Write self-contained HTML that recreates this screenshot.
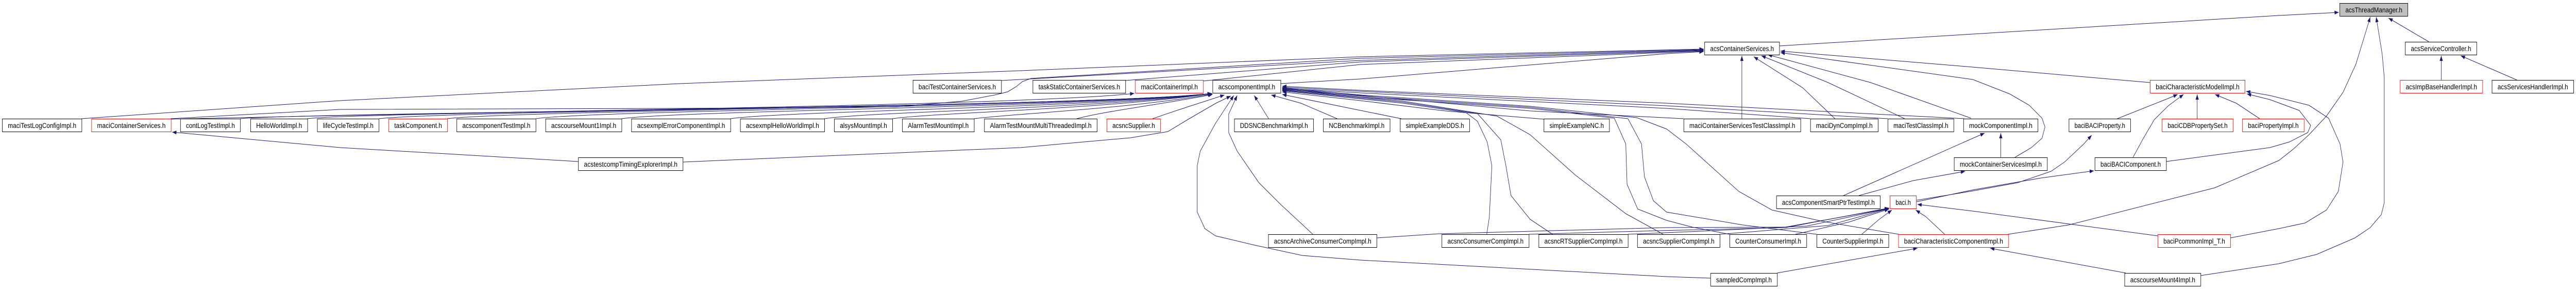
<!DOCTYPE html>
<html><head><meta charset="utf-8"><style>
html,body{margin:0;padding:0;background:#fff;overflow:hidden;width:100%;height:100%;}
svg{display:block;position:absolute;left:0;top:0;width:100vw;height:100vh;}
text{font-family:"Liberation Sans",sans-serif;font-size:14px;fill:#000;}
</style></head><body>
<svg xmlns="http://www.w3.org/2000/svg" viewBox="0 0 6059 560" preserveAspectRatio="none">
<defs>
<marker id="a" markerWidth="11" markerHeight="8" refX="10" refY="3.75" orient="auto" markerUnits="userSpaceOnUse"><path d="M0,0 L10,3.75 L0,7.5 z" fill="#191970"/></marker>
</defs>
<rect width="6059" height="560" fill="#fff"/>
<g fill="none" stroke="#191970" stroke-width="1" marker-end="url(#a)">
<!-- into acsContainerServices from left -->
<path d="M192,230 L800,195 L1600,162 L2400,137 L3200,110 L4007,95"/>
<path d="M401,230 L800,212 L1600,210 L2110,207 L2263,196 L2340,184 L2370,178 L2390,168 L2405,158 L2425,152 L3200,113 L4007,96"/>
<path d="M2355,156 L2400,154 L3200,117 L4007,97"/>
<path d="M2647,156 L3200,120 L4007,98"/>
<path d="M2830,157 L3200,125 L4007,99"/>
<path d="M3012,162 L3200,153 L3920,104 L4007,100"/>
<!-- into acsContainerServices from below/right -->
<path d="M4097,230 L4097,108"/>
<path d="M4316,230 L4240,170 L4125,110"/>
<path d="M4480,230 L4300,160 L4143,108"/>
<path d="M4636,229 L4400,160 L4158,106"/>
<path d="M5057,160 L4640,130 L4188,99"/>
<path d="M4739,305 L4778,286 L4803,268 L4810,246 L4803,229 L4773,204 L4727,182 L4640,154 L4188,102"/>
<!-- to acsThreadManager -->
<path d="M4185,89 L4640,66 L5360,30 L5501,24"/>
<path d="M5713,81 L5618,35"/>
<path d="M4723,454 L4865,436 L5209,364 L5360,311 L5394,289 L5431,261 L5472,225 L5511,179 L5541,125 L5569,50 L5575,33"/>
<path d="M5176,534 L5360,511 L5449,493 L5539,461 L5575,441 L5601,416 L5608,393 L5608,150 L5603,104 L5591,43 L5589,33"/>
<!-- acsServiceController -->
<path d="M5742,155 L5742,108"/>
<path d="M5920,155 L5788,108"/>
<!-- baciCharacteristicModelImpl -->
<path d="M4980,230 L5099,191 L5122,183"/>
<path d="M5017,305 L5040,270 L5067,232 L5100,205 L5136,183"/>
<path d="M5168,230 L5168,183"/>
<path d="M5315,230 L5260,200 L5210,183"/>
<path d="M5246,461 L5360,443 L5422,432 L5472,407 L5500,371 L5511,314 L5504,279 L5477,229 L5431,204 L5339,185 L5283,177"/>
<path d="M5095,313 L5339,286 L5385,275 L5428,257 L5435,243 L5408,214 L5339,193 L5285,182"/>
<!-- baci.h -->
<path d="M4508,388 L4640,370 L4746,354 L4824,332 L4856,314 L4900,280 L4920,262"/>
<path d="M4508,391 L4640,368 L4800,345 L4925,331"/>
<path d="M5075,457 L4640,409 L4510,396"/>
<path d="M4574,454 L4530,420 L4506,407"/>
<path d="M4379,454 L4420,425 L4450,407"/>
<path d="M4223,454 L4350,430 L4443,405"/>
<path d="M4045,454 L4300,437 L4443,404"/>
<path d="M3829,454 L4000,448 L4250,438 L4443,404"/>
<path d="M3596,454 L3900,447 L4200,441 L4443,403"/>
<path d="M3238,461 L3384,453 L3920,441 L4200,440 L4443,404"/>
<!-- baciCharacteristicComponentImpl -->
<path d="M4180,529 L4510,481"/>
<path d="M5000,529 L4681,481"/>
<!-- mock -->
<path d="M4336,379 L4640,268 L4668,258"/>
<path d="M4372,379 L4500,350 L4622,332"/>
<path d="M4706,305 L4706,258"/>
<!-- acstestcompTimingExplorer -->
<path d="M1360,313 L800,286 L405,256"/>
<path d="M1606,314 L2400,286 L2659,267 L2747,255 L2793,232 L2860,200 L2895,186"/>
<!-- long curves to acscomponentImpl bottom -->
<path d="M4023,539 L3920,536 L3200,504 L3063,495 L2951,475 L2859,457 L2834,443 L2816,411 L2816,321 L2823,293 L2859,239 L2902,185"/>
<path d="M3088,454 L3012,396 L2961,354 L2910,293 L2890,257 L2890,221 L2910,185"/>
<!-- left row boxes to acscomponentImpl / maciContainerImpl -->
<path d="M401,231 C1200,215 2400,205 2668,181"/>
<path d="M565,230 C700,218 2600,208 2850,181"/>
<path d="M723,230 C850,216 2600,207 2850,181"/>
<path d="M891,230 C1050,214 2600,206 2850,181"/>
<path d="M1052,230 C1200,214 2600,205 2850,181"/>
<path d="M1260,230 C1400,213 2600,206 2850,181"/>
<path d="M1462,230 C1600,214 2600,207 2850,181"/>
<path d="M1718,230 C1850,215 2600,208 2850,181"/>
<path d="M1939,230 C2050,216 2600,210 2850,181"/>
<path d="M2099,230 C2200,218 2600,212 2851,181"/>
<path d="M2291,230 C2380,220 2650,212 2851,182"/>
<path d="M2533,230 C2600,215 2750,200 2852,183"/>
<path d="M2711,230 C2780,210 2840,195 2880,184"/>
<!-- right side into acscomponentImpl -->
<path d="M2984,230 L2950,185"/>
<path d="M3145,230 L3060,200 L2990,184"/>
<path d="M3296,230 L3200,214 L3016,183"/>
<path d="M3632,231 L3400,215 L3200,195 L3016,178"/>
<path d="M3960,230 L3600,215 L3200,185 L3016,173"/>
<path d="M4258,230 L3920,210 L3200,180 L3016,171"/>
<path d="M4440,230 L3920,205 L3200,177 L3016,169"/>
<path d="M4620,230 L3920,200 L3200,175 L3016,167"/>
<path d="M3497,454 L3503,421 L3509,321 L3498,275 L3475,235 L3448,218 L3300,200 L3016,176"/>
<path d="M3652,454 L3599,425 L3554,379 L3542,321 L3530,271 L3475,220 L3300,198 L3016,175"/>
<path d="M3912,454 L3824,414 L3705,339 L3599,261 L3521,225 L3300,196 L3016,174"/>
<path d="M4068,454 L3980,440 L3920,427 L3852,405 L3827,357 L3824,279 L3797,229 L3600,210 L3200,188 L3016,172"/>
<path d="M4273,454 L4100,436 L3920,411 L3889,389 L3868,343 L3861,279 L3829,230 L3600,208 L3200,186 L3016,171"/>
<path d="M4466,454 L4287,429 L4168,407 L4090,371 L3966,279 L3920,250 L3850,228 L3600,206 L3200,184 L3016,170"/>
</g>
<g stroke-width="1">
<rect x="5503.5" y="6.5" width="160" height="25" fill="#bfbfbf" stroke="#000"/>
<text x="5583.5" y="24" text-anchor="middle" textLength="134" lengthAdjust="spacingAndGlyphs">acsThreadManager.h</text>
<rect x="4009.5" y="81.5" width="176" height="25" fill="#fff" stroke="#000"/>
<text x="4097.5" y="99" text-anchor="middle" textLength="150" lengthAdjust="spacingAndGlyphs">acsContainerServices.h</text>
<rect x="5657.5" y="81.5" width="168" height="25" fill="#fff" stroke="#000"/>
<text x="5741.5" y="99" text-anchor="middle" textLength="142" lengthAdjust="spacingAndGlyphs">acsServiceController.h</text>

<rect x="2147.5" y="155.5" width="208" height="25" fill="#fff" stroke="#000"/>
<text x="2251.5" y="173" text-anchor="middle" textLength="182" lengthAdjust="spacingAndGlyphs">baciTestContainerServices.h</text>
<rect x="2429.5" y="155.5" width="218" height="25" fill="#fff" stroke="#000"/>
<text x="2538.5" y="173" text-anchor="middle" textLength="192" lengthAdjust="spacingAndGlyphs">taskStaticContainerServices.h</text>
<rect x="2670.5" y="155.5" width="160" height="25" fill="#fff" stroke="#f00"/>
<text x="2750.5" y="173" text-anchor="middle" textLength="134" lengthAdjust="spacingAndGlyphs">maciContainerImpl.h</text>
<rect x="2852.5" y="155.5" width="160" height="25" fill="#fff" stroke="#000"/>
<text x="2932.5" y="173" text-anchor="middle" textLength="134" lengthAdjust="spacingAndGlyphs">acscomponentImpl.h</text>
<rect x="5057.5" y="155.5" width="223" height="25" fill="#fff" stroke="#f00"/>
<text x="5169" y="173" text-anchor="middle" textLength="197" lengthAdjust="spacingAndGlyphs">baciCharacteristicModelImpl.h</text>
<rect x="5645.5" y="155.5" width="194" height="25" fill="#fff" stroke="#f00"/>
<text x="5742.5" y="173" text-anchor="middle" textLength="168" lengthAdjust="spacingAndGlyphs">acsImpBaseHandlerImpl.h</text>
<rect x="5861.5" y="155.5" width="192" height="25" fill="#fff" stroke="#000"/>
<text x="5957.5" y="173" text-anchor="middle" textLength="166" lengthAdjust="spacingAndGlyphs">acsServicesHandlerImpl.h</text>

<rect x="5.5" y="230.5" width="187" height="25" fill="#fff" stroke="#000"/>
<text x="99" y="248" text-anchor="middle" textLength="161" lengthAdjust="spacingAndGlyphs">maciTestLogConfigImpl.h</text>
<rect x="215.5" y="230.5" width="187" height="25" fill="#fff" stroke="#f00"/>
<text x="309" y="248" text-anchor="middle" textLength="161" lengthAdjust="spacingAndGlyphs">maciContainerServices.h</text>
<rect x="424.5" y="230.5" width="141" height="25" fill="#fff" stroke="#000"/>
<text x="495" y="248" text-anchor="middle" textLength="115" lengthAdjust="spacingAndGlyphs">contLogTestImpl.h</text>
<rect x="589.5" y="230.5" width="134" height="25" fill="#fff" stroke="#000"/>
<text x="656.5" y="248" text-anchor="middle" textLength="108" lengthAdjust="spacingAndGlyphs">HelloWorldImpl.h</text>
<rect x="746.5" y="230.5" width="145" height="25" fill="#fff" stroke="#000"/>
<text x="819" y="248" text-anchor="middle" textLength="119" lengthAdjust="spacingAndGlyphs">lifeCycleTestImpl.h</text>
<rect x="914.5" y="230.5" width="138" height="25" fill="#fff" stroke="#f00"/>
<text x="983.5" y="248" text-anchor="middle" textLength="112" lengthAdjust="spacingAndGlyphs">taskComponent.h</text>
<rect x="1074.5" y="230.5" width="186" height="25" fill="#fff" stroke="#000"/>
<text x="1167.5" y="248" text-anchor="middle" textLength="160" lengthAdjust="spacingAndGlyphs">acscomponentTestImpl.h</text>
<rect x="1283.5" y="230.5" width="179" height="25" fill="#fff" stroke="#000"/>
<text x="1373" y="248" text-anchor="middle" textLength="153" lengthAdjust="spacingAndGlyphs">acscourseMount1Impl.h</text>
<rect x="1485.5" y="230.5" width="233" height="25" fill="#fff" stroke="#000"/>
<text x="1602" y="248" text-anchor="middle" textLength="207" lengthAdjust="spacingAndGlyphs">acsexmplErrorComponentImpl.h</text>
<rect x="1741.5" y="230.5" width="198" height="25" fill="#fff" stroke="#000"/>
<text x="1840.5" y="248" text-anchor="middle" textLength="172" lengthAdjust="spacingAndGlyphs">acsexmplHelloWorldImpl.h</text>
<rect x="1962.5" y="230.5" width="137" height="25" fill="#fff" stroke="#000"/>
<text x="2031" y="248" text-anchor="middle" textLength="111" lengthAdjust="spacingAndGlyphs">alsysMountImpl.h</text>
<rect x="2122.5" y="230.5" width="169" height="25" fill="#fff" stroke="#000"/>
<text x="2207" y="248" text-anchor="middle" textLength="143" lengthAdjust="spacingAndGlyphs">AlarmTestMountImpl.h</text>
<rect x="2315.5" y="230.5" width="265" height="25" fill="#fff" stroke="#000"/>
<text x="2448" y="248" text-anchor="middle" textLength="239" lengthAdjust="spacingAndGlyphs">AlarmTestMountMultiThreadedImpl.h</text>
<rect x="2603.5" y="230.5" width="126" height="25" fill="#fff" stroke="#f00"/>
<text x="2666.5" y="248" text-anchor="middle" textLength="100" lengthAdjust="spacingAndGlyphs">acsncSupplier.h</text>
<rect x="2903.5" y="230.5" width="186" height="25" fill="#fff" stroke="#000"/>
<text x="2996.5" y="248" text-anchor="middle" textLength="160" lengthAdjust="spacingAndGlyphs">DDSNCBenchmarkImpl.h</text>
<rect x="3112.5" y="230.5" width="157" height="25" fill="#fff" stroke="#000"/>
<text x="3191" y="248" text-anchor="middle" textLength="131" lengthAdjust="spacingAndGlyphs">NCBenchmarkImpl.h</text>
<rect x="3293.5" y="230.5" width="163" height="25" fill="#fff" stroke="#000"/>
<text x="3375" y="248" text-anchor="middle" textLength="137" lengthAdjust="spacingAndGlyphs">simpleExampleDDS.h</text>
<rect x="3631.5" y="230.5" width="154" height="25" fill="#fff" stroke="#000"/>
<text x="3708.5" y="248" text-anchor="middle" textLength="128" lengthAdjust="spacingAndGlyphs">simpleExampleNC.h</text>
<rect x="3960.5" y="230.5" width="275" height="25" fill="#fff" stroke="#000"/>
<text x="4098" y="248" text-anchor="middle" textLength="249" lengthAdjust="spacingAndGlyphs">maciContainerServicesTestClassImpl.h</text>
<rect x="4258.5" y="230.5" width="159" height="25" fill="#fff" stroke="#000"/>
<text x="4338" y="248" text-anchor="middle" textLength="133" lengthAdjust="spacingAndGlyphs">maciDynCompImpl.h</text>
<rect x="4440.5" y="230.5" width="155" height="25" fill="#fff" stroke="#000"/>
<text x="4518" y="248" text-anchor="middle" textLength="129" lengthAdjust="spacingAndGlyphs">maciTestClassImpl.h</text>
<rect x="4618.5" y="230.5" width="175" height="25" fill="#fff" stroke="#000"/>
<text x="4706" y="248" text-anchor="middle" textLength="149" lengthAdjust="spacingAndGlyphs">mockComponentImpl.h</text>
<rect x="4866.5" y="230.5" width="145" height="25" fill="#fff" stroke="#000"/>
<text x="4939" y="248" text-anchor="middle" textLength="119" lengthAdjust="spacingAndGlyphs">baciBACIProperty.h</text>
<rect x="5085.5" y="230.5" width="167" height="25" fill="#fff" stroke="#f00"/>
<text x="5169" y="248" text-anchor="middle" textLength="141" lengthAdjust="spacingAndGlyphs">baciCDBPropertySet.h</text>
<rect x="5274.5" y="230.5" width="145" height="25" fill="#fff" stroke="#f00"/>
<text x="5347" y="248" text-anchor="middle" textLength="119" lengthAdjust="spacingAndGlyphs">baciPropertyImpl.h</text>

<rect x="1360.5" y="305.5" width="246" height="25" fill="#fff" stroke="#000"/>
<text x="1483.5" y="323" text-anchor="middle" textLength="220" lengthAdjust="spacingAndGlyphs">acstestcompTimingExplorerImpl.h</text>
<rect x="4596.5" y="305.5" width="219" height="25" fill="#fff" stroke="#000"/>
<text x="4706" y="323" text-anchor="middle" textLength="193" lengthAdjust="spacingAndGlyphs">mockContainerServicesImpl.h</text>
<rect x="4927.5" y="305.5" width="168" height="25" fill="#fff" stroke="#000"/>
<text x="5011.5" y="323" text-anchor="middle" textLength="142" lengthAdjust="spacingAndGlyphs">baciBACIComponent.h</text>

<rect x="4178.5" y="379.5" width="244" height="25" fill="#fff" stroke="#000"/>
<text x="4300.5" y="397" text-anchor="middle" textLength="218" lengthAdjust="spacingAndGlyphs">acsComponentSmartPtrTestImpl.h</text>
<rect x="4445.5" y="379.5" width="62" height="25" fill="#fff" stroke="#f00"/>
<text x="4476.5" y="397" text-anchor="middle" textLength="36" lengthAdjust="spacingAndGlyphs">baci.h</text>

<rect x="2983.5" y="454.5" width="255" height="25" fill="#fff" stroke="#000"/>
<text x="3111" y="472" text-anchor="middle" textLength="229" lengthAdjust="spacingAndGlyphs">acsncArchiveConsumerCompImpl.h</text>
<rect x="3391.5" y="454.5" width="205" height="25" fill="#fff" stroke="#000"/>
<text x="3494" y="472" text-anchor="middle" textLength="179" lengthAdjust="spacingAndGlyphs">acsncConsumerCompImpl.h</text>
<rect x="3619.5" y="454.5" width="210" height="25" fill="#fff" stroke="#000"/>
<text x="3724.5" y="472" text-anchor="middle" textLength="184" lengthAdjust="spacingAndGlyphs">acsncRTSupplierCompImpl.h</text>
<rect x="3851.5" y="454.5" width="194" height="25" fill="#fff" stroke="#000"/>
<text x="3948.5" y="472" text-anchor="middle" textLength="168" lengthAdjust="spacingAndGlyphs">acsncSupplierCompImpl.h</text>
<rect x="4068.5" y="454.5" width="181" height="25" fill="#fff" stroke="#000"/>
<text x="4159" y="472" text-anchor="middle" textLength="155" lengthAdjust="spacingAndGlyphs">CounterConsumerImpl.h</text>
<rect x="4273.5" y="454.5" width="169" height="25" fill="#fff" stroke="#000"/>
<text x="4358" y="472" text-anchor="middle" textLength="143" lengthAdjust="spacingAndGlyphs">CounterSupplierImpl.h</text>
<rect x="4465.5" y="454.5" width="259" height="25" fill="#fff" stroke="#f00"/>
<text x="4595" y="472" text-anchor="middle" textLength="233" lengthAdjust="spacingAndGlyphs">baciCharacteristicComponentImpl.h</text>
<rect x="5075.5" y="454.5" width="171" height="25" fill="#fff" stroke="#f00"/>
<text x="5161" y="472" text-anchor="middle" textLength="145" lengthAdjust="spacingAndGlyphs">baciPcommonImpl_T.h</text>

<rect x="4023.5" y="529.5" width="157" height="25" fill="#fff" stroke="#000"/>
<text x="4102" y="547" text-anchor="middle" textLength="131" lengthAdjust="spacingAndGlyphs">sampledCompImpl.h</text>
<rect x="4997.5" y="529.5" width="179" height="25" fill="#fff" stroke="#000"/>
<text x="5087" y="547" text-anchor="middle" textLength="153" lengthAdjust="spacingAndGlyphs">acscourseMount4Impl.h</text>
</g>
</svg>
</body></html>
